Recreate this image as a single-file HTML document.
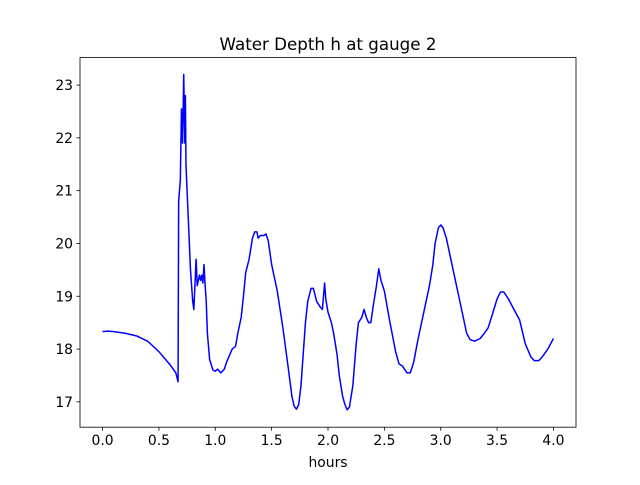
<!DOCTYPE html>
<html><head><meta charset="utf-8"><style>
body{margin:0;background:#fff;font-family:"Liberation Sans","DejaVu Sans",sans-serif}
svg text{font-family:"DejaVu Sans","Liberation Sans",sans-serif}
</style></head><body>
<svg id="chart" width="640" height="480" xmlns="http://www.w3.org/2000/svg"></svg>
<script>
const xs=[0,0.05,0.1,0.2,0.3,0.4,0.5,0.6,0.65,0.67,0.675,0.69,0.7,0.71,0.72,0.73,0.735,0.74,0.76,0.78,0.8,0.81,0.83,0.84,0.86,0.87,0.88,0.89,0.9,0.91,0.92,0.93,0.95,0.98,1.0,1.02,1.05,1.08,1.1,1.12,1.15,1.18,1.2,1.23,1.25,1.27,1.3,1.33,1.35,1.37,1.38,1.4,1.43,1.45,1.47,1.5,1.55,1.6,1.65,1.68,1.7,1.72,1.74,1.76,1.78,1.8,1.82,1.85,1.87,1.9,1.93,1.95,1.97,1.98,2.0,2.03,2.05,2.08,2.1,2.13,2.15,2.17,2.19,2.22,2.25,2.27,2.3,2.32,2.34,2.36,2.38,2.4,2.43,2.45,2.47,2.5,2.55,2.6,2.63,2.66,2.7,2.73,2.76,2.8,2.85,2.9,2.93,2.95,2.98,3.0,3.02,3.05,3.1,3.15,3.2,3.23,3.26,3.3,3.35,3.38,3.42,3.45,3.5,3.53,3.56,3.6,3.65,3.7,3.75,3.8,3.83,3.87,3.9,3.95,4.0];
const depth=[18.33,18.34,18.33,18.3,18.25,18.15,17.95,17.7,17.55,17.38,20.8,21.2,22.55,21.9,23.2,21.9,22.8,21.5,20.5,19.5,18.9,18.75,19.7,19.2,19.4,19.3,19.4,19.25,19.6,19.2,18.9,18.3,17.8,17.6,17.58,17.62,17.55,17.62,17.75,17.85,18.0,18.05,18.3,18.6,19.0,19.45,19.7,20.1,20.22,20.22,20.1,20.15,20.15,20.18,20.05,19.6,19.1,18.4,17.6,17.1,16.92,16.86,16.95,17.3,17.9,18.5,18.9,19.15,19.15,18.9,18.8,18.75,19.25,18.95,18.7,18.5,18.3,17.9,17.5,17.1,16.95,16.85,16.9,17.3,18.1,18.5,18.6,18.75,18.6,18.5,18.5,18.8,19.2,19.52,19.3,19.1,18.5,17.95,17.72,17.68,17.55,17.55,17.75,18.2,18.7,19.2,19.6,20.0,20.3,20.35,20.3,20.1,19.6,19.1,18.6,18.3,18.18,18.15,18.2,18.28,18.4,18.6,18.95,19.08,19.08,18.95,18.75,18.55,18.1,17.85,17.78,17.78,17.85,18.0,18.2];
const xTicks=[0,0.5,1,1.5,2,2.5,3,3.5,4];
const xTickLabels=["0.0","0.5","1.0","1.5","2.0","2.5","3.0","3.5","4.0"];
const yTicks=[17,18,19,20,21,22,23];
const L=80,R=576,T=57.6,B=427.2,XMIN=-0.2,XMAX=4.2,YMIN=16.52,YMAX=23.52;
const X=v=>L+(v-XMIN)/(XMAX-XMIN)*(R-L);
const Y=v=>B-(v-YMIN)/(YMAX-YMIN)*(B-T);
const s=document.getElementById('chart');const NS="http://www.w3.org/2000/svg";
function mk(t,a,txt){const e=document.createElementNS(NS,t);for(const k in a)e.setAttribute(k,a[k]);if(txt!==undefined)e.textContent=txt;s.appendChild(e);return e;}
let d=xs.map((x,i)=>(i?'L':'M')+X(x).toFixed(2)+','+Y(depth[i]).toFixed(2)).join('');
const line=mk('path',{d:d,fill:'none',stroke:'#0000ff','stroke-width':1.5,'stroke-linejoin':'round'});


const fr=mk('rect',{x:L,y:T,width:R-L,height:B-T,fill:'none',stroke:'#000','stroke-width':0.8});


xTicks.forEach((v,i)=>{const x=X(v);mk('line',{x1:x,x2:x,y1:B,y2:B+3.5,stroke:'#000','stroke-width':0.8});
const t=mk('text',{x:x,y:B+18,'text-anchor':'middle','font-size':13.9},xTickLabels[i]);

});
yTicks.forEach(v=>{const y=Y(v);mk('line',{x1:L-3.5,x2:L,y1:y,y2:y,stroke:'#000','stroke-width':0.8});
const t=mk('text',{x:L-7,y:y+5,'text-anchor':'end','font-size':13.9},String(v));

});
const xt=mk('text',{x:(L+R)/2,y:467,'text-anchor':'middle','font-size':13.9},'hours');


const tt=mk('text',{x:(L+R)/2,y:50,'text-anchor':'middle','font-size':16.7},'Water Depth h at gauge 2');


</script>
</body></html>
